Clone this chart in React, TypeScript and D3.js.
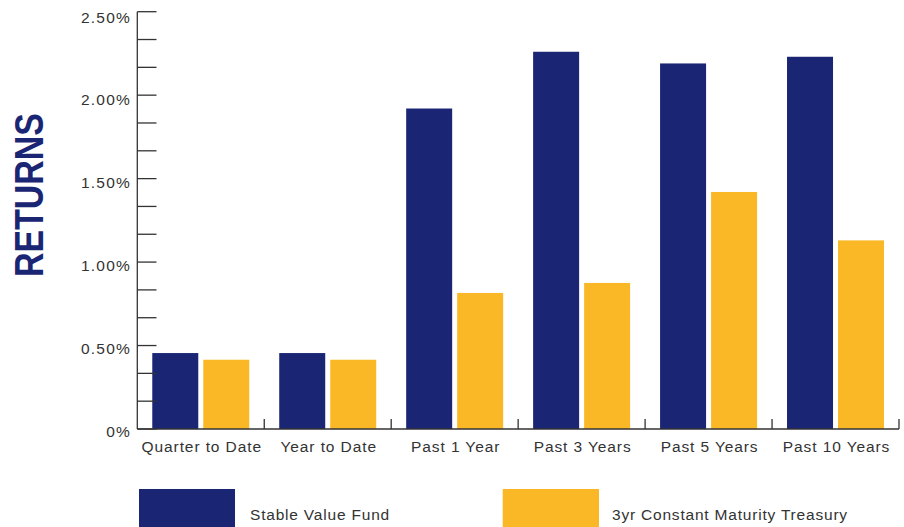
import React from "react";
import * as d3 from "d3";

const categories = ["Quarter to Date", "Year to Date", "Past 1 Year", "Past 3 Years", "Past 5 Years", "Past 10 Years"];
const seriesNames = ["Stable Value Fund", "3yr Constant Maturity Treasury"];
const stableValue = [0.455, 0.455, 1.92, 2.26, 2.19, 2.23];
const treasury = [0.415, 0.415, 0.815, 0.875, 1.42, 1.13];
const yTickLabels = [0, 0.5, 1.0, 1.5, 2.0, 2.5];
const colors = ["#1a2673", "#fbb826"];

const W = 904;
const H = 527;
const FONT = "'Liberation Sans', Arial, Helvetica, sans-serif";

export default function App() {
  const x0 = 137.3;
  const x1 = 899;
  const yTop = 11.7;
  const yBase = 429;
  const y = d3.scaleLinear().domain([0, 2.5]).range([yBase, yTop]);
  const yLabel = d3.scaleLinear().domain([0, 2.5]).range([436.5, 22.5]);
  const x = d3.scaleBand().domain(categories).range([x0, x1]).paddingInner(0).paddingOuter(0);
  const sub = d3.scaleBand().domain(seriesNames).range([0, 97]).paddingInner(0.098).paddingOuter(0);
  const minorTicks = d3.range(0, 16).map((i) => (i * 2.5) / 15);
  const data = [stableValue, treasury];
  const fmt = (v: number) => (v === 0 ? "0%" : d3.format(".2f")(v) + "%");
  const boundaries = categories.map((c) => (x(c) as number) + x.bandwidth());

  return (
    <svg width={W} height={H} style={{ position: "absolute", left: 0, top: 0, background: "#fff" }} fontFamily={FONT}>
      {/* bars */}
      {categories.map((c, i) => {
        const cx = (x(c) as number) + x.bandwidth() / 2;
        return (
          <g key={c} transform={`translate(${cx - 48.5},0)`}>
            {seriesNames.map((s, j) => (
              <rect
                key={s}
                x={sub(s) as number}
                y={y(data[j][i])}
                width={sub.bandwidth()}
                height={yBase - y(data[j][i])}
                fill={colors[j]}
              />
            ))}
          </g>
        );
      })}
      {/* y axis */}
      <line x1={x0} x2={x0} y1={yTop} y2={yBase} stroke="#333" strokeWidth={1.3} />
      {minorTicks.map((t, i) => (
        <line key={i} x1={x0} x2={156.5} y1={y(t)} y2={y(t)} stroke="#333" strokeWidth={1.3} />
      ))}
      {yTickLabels.map((t) => (
        <text key={t} x={131} y={yLabel(t)} textAnchor="end" fontSize={15.5} letterSpacing={1.2} fill="#333">
          {fmt(t)}
        </text>
      ))}
      {/* x axis */}
      <line x1={x0} x2={x1} y1={yBase} y2={yBase} stroke="#333" strokeWidth={1.3} />
      {boundaries.map((b, i) => (
        <line key={i} x1={b} x2={b} y1={yBase} y2={yBase - 10} stroke="#333" strokeWidth={1.3} />
      ))}
      {categories.map((c) => (
        <text
          key={c}
          x={(x(c) as number) + x.bandwidth() / 2 + 1}
          y={452}
          textAnchor="middle"
          fontSize={15.5}
          letterSpacing={0.9}
          fill="#333"
        >
          {c}
        </text>
      ))}
      {/* y title */}
      <text
        transform="translate(42.5,195) rotate(-90)"
        textAnchor="middle"
        fontSize={41}
        fontWeight="bold"
        textLength={164}
        lengthAdjust="spacingAndGlyphs"
        fill={colors[0]}
      >
        RETURNS
      </text>
      {/* legend */}
      <rect x={139} y={489} width={96} height={40} fill={colors[0]} />
      <text x={250} y={520} fontSize={15.5} letterSpacing={0.8} fill="#333">
        {seriesNames[0]}
      </text>
      <rect x={502.7} y={489} width={96.3} height={40} fill={colors[1]} />
      <text x={612} y={520} fontSize={15.5} letterSpacing={0.8} fill="#333">
        {seriesNames[1]}
      </text>
    </svg>
  );
}
